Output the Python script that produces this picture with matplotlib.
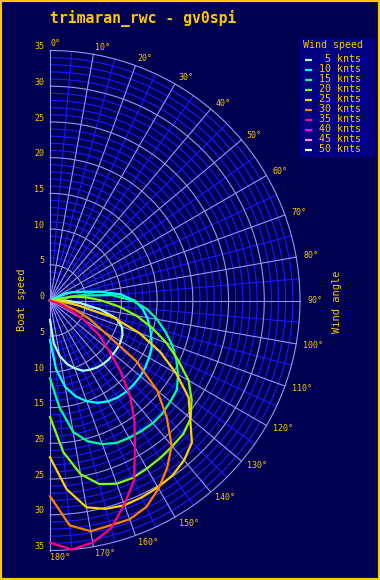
import numpy as np
import matplotlib
matplotlib.use("Agg")
import matplotlib.pyplot as plt
from matplotlib.transforms import offset_copy

plt.rcParams['font.family'] = ['DejaVu Sans Mono']

title = "trimaran_rwc - gv0spi"
wind_speeds = [5, 10, 15, 20, 25, 30, 35, 40, 45, 50]
line_colors = ["#a8ffff", "#00ffff", "#00ff99", "#80ff00", "#ffd000",
               "#ff8000", "#ff0080", "#ff00ff", "#ff88ff", "#ffffff"]

# true wind angle (deg) and boat speed (knts) per wind speed
twa = [60, 65, 70, 75, 80, 85, 90, 95, 100, 105, 110, 115, 120, 125, 130,
       135, 140, 145, 150, 155, 160, 165, 170, 175, 180]
bsp_5 = [0, 0, 0, 0, 0, 0, 2.2, 4.3, 7.1, 9.6, 10.7, 11.2, 11.45, 11.55, 11.6,
         11.65, 11.6, 11.45, 11.2, 10.85, 10.1, 9.2, 7.9, 6.0, 2.7]
bsp_10 = [0, 2.4, 3.4, 4.7, 7.1, 9.9, 11.8, 13.0, 13.8, 14.5, 15.1, 15.7, 16.0,
          16.3, 16.5, 16.6, 16.65, 16.55, 16.3, 15.8, 15.0, 13.9, 12.3, 9.6, 5.5]
bsp_15 = [0, 0, 0, 0, 4.0, 8.7, 11.5, 13.6, 15.2, 16.7, 18.2, 19.5, 20.7, 21.7,
          22.0, 22.3, 22.4, 22.3, 22.2, 22.0, 21.4, 20.4, 18.7, 15.0, 10.9]
bsp_20 = [0, 0, 0, 0, 3.1, 5.1, 7.2, 9.7, 12.3, 14.8, 17.35, 19.8, 22.4, 24.2,
          25.7, 26.4, 26.65, 26.9, 27.15, 27.4, 27.3, 26.6, 24.7, 21.3, 16.3]
bsp_25 = [0, 0, 0, 0, 0, 0, 0, 2.2, 4.0, 9.2, 13.3, 17.0, 20.4, 23.7, 25.6,
          28.1, 29.2, 29.9, 30.2, 30.4, 30.5, 30.2, 29.4, 26.5, 21.95]
bsp_30 = [0, 0, 0, 0, 0, 0, 0, 0, 0, 1.7, 3.7, 6.1, 8.6, 14.7, 19.6,
          23.1, 26.5, 28.6, 30.4, 31.9, 32.6, 32.6, 32.8, 31.6, 27.4]
bsp_35 = [0, 0, 0, 0, 0, 0, 0, 0, 0, 0, 1.5, 3.2, 5.5, 8.3, 10.6,
          13.9, 17.4, 20.6, 23.8, 27.8, 30.4, 33.0, 34.4, 35.0, 33.9]
bsp_40 = []
bsp_45 = []
bsp_50 = []
boat_speeds = [bsp_5, bsp_10, bsp_15, bsp_20, bsp_25, bsp_30, bsp_35,
               bsp_40, bsp_45, bsp_50]

r_ticks = [0, 5, 10, 15, 20, 25, 30, 35]
angle_ticks = list(range(0, 181, 10))

BG = "#000050"
LEG_BG = "#000080"
GOLD = "#ffc800"
MAJOR = "#9494ff"
MINOR = "#1a1aff"

fig = plt.figure(figsize=(3.8, 5.8), dpi=100, facecolor=BG)
# full polar axes centred on the left edge, only the right half is drawn
ax = fig.add_axes([-200 / 380, 29.5 / 580, 500 / 380, 500 / 580], projection="polar")
ax.set_theta_zero_location("N")
ax.set_theta_direction(-1)
ax.set_ylim(0, 35)
ax.patch.set_visible(False)
ax.grid(False)
ax.set_xticks([])
ax.set_yticks([])
for s in ax.spines.values():
    s.set_visible(False)

# grid: circles every knot, rays every 5 degrees
theta = np.radians(np.linspace(0, 180, 361))
for r in range(1, 36):
    major = r % 5 == 0
    ax.plot(theta, np.full_like(theta, r), color=MAJOR if major else MINOR,
            lw=0.8, zorder=2 if major else 1, clip_on=False)
for a in range(0, 181, 5):
    major = a % 10 == 0
    ax.plot([np.radians(a)] * 2, [0 if major else 5, 35],
            color=MAJOR if major else MINOR, lw=0.8,
            zorder=2 if major else 1, clip_on=False)

# polar curves
for ws, col, bsp in zip(wind_speeds, line_colors, boat_speeds):
    if bsp:
        ax.plot(np.radians(twa), bsp, color=col, lw=1.6, zorder=3, clip_on=False)

# radial labels on the left edge
lab_tr = offset_copy(ax.transData, fig=fig, x=-6, y=3.8, units='dots')
for r in r_ticks:
    ax.text(0, r, str(r), transform=lab_tr, ha='right', va='center',
            color=GOLD, fontsize=6)
    if r:
        ax.text(np.pi, r, str(r), transform=lab_tr, ha='right', va='center',
                color=GOLD, fontsize=6)

# angle labels
for a in angle_ticks:
    t = np.radians(a)
    tr = offset_copy(ax.transData, fig=fig, x=7 * np.sin(t), y=7 * np.cos(t),
                     units='dots')
    ax.text(t, 35, f"{a}\u00b0", transform=tr, ha='left', va='center',
            color=GOLD, fontsize=6)

fig.text(50 / 380, 1 - 18.5 / 580, title, color=GOLD, fontsize=10.6,
         fontweight='bold', ha='left', va='center')
fig.text(21.7 / 380, 1 - 300 / 580, "Boat speed", color=GOLD, fontsize=7.5,
         rotation=90, ha='center', va='center')
fig.text(336.7 / 380, 1 - 301.7 / 580, "Wind angle", color=GOLD, fontsize=7.5,
         rotation=90, ha='center', va='center')

# legend box
lax = fig.add_axes([300 / 380, 1 - 157 / 580, 75 / 380, 119 / 580])
lax.set_facecolor(LEG_BG)
lax.set_xlim(0, 75)
lax.set_ylim(119, 0)
lax.set_xticks([])
lax.set_yticks([])
for s in lax.spines.values():
    s.set_visible(False)
lax.text(33.3, 7.5, "Wind speed", ha='center', va='center', color=GOLD, fontsize=7.2)
for i, (ws, col) in enumerate(zip(wind_speeds, line_colors)):
    y = 21.3 + 10 * i
    lax.plot([5, 11.7], [y + 0.5, y + 0.5], color=col, lw=1.6, solid_capstyle='butt')
    lax.text(61, y, f"{ws} knts", ha='right', va='center', color=GOLD, fontsize=7.2)

# outer frame
fig.patches.append(plt.Rectangle((0, 0), 1, 1, transform=fig.transFigure,
                                 fill=False, edgecolor=GOLD, lw=3))

fig.savefig("out.png", dpi=100, facecolor=BG)
